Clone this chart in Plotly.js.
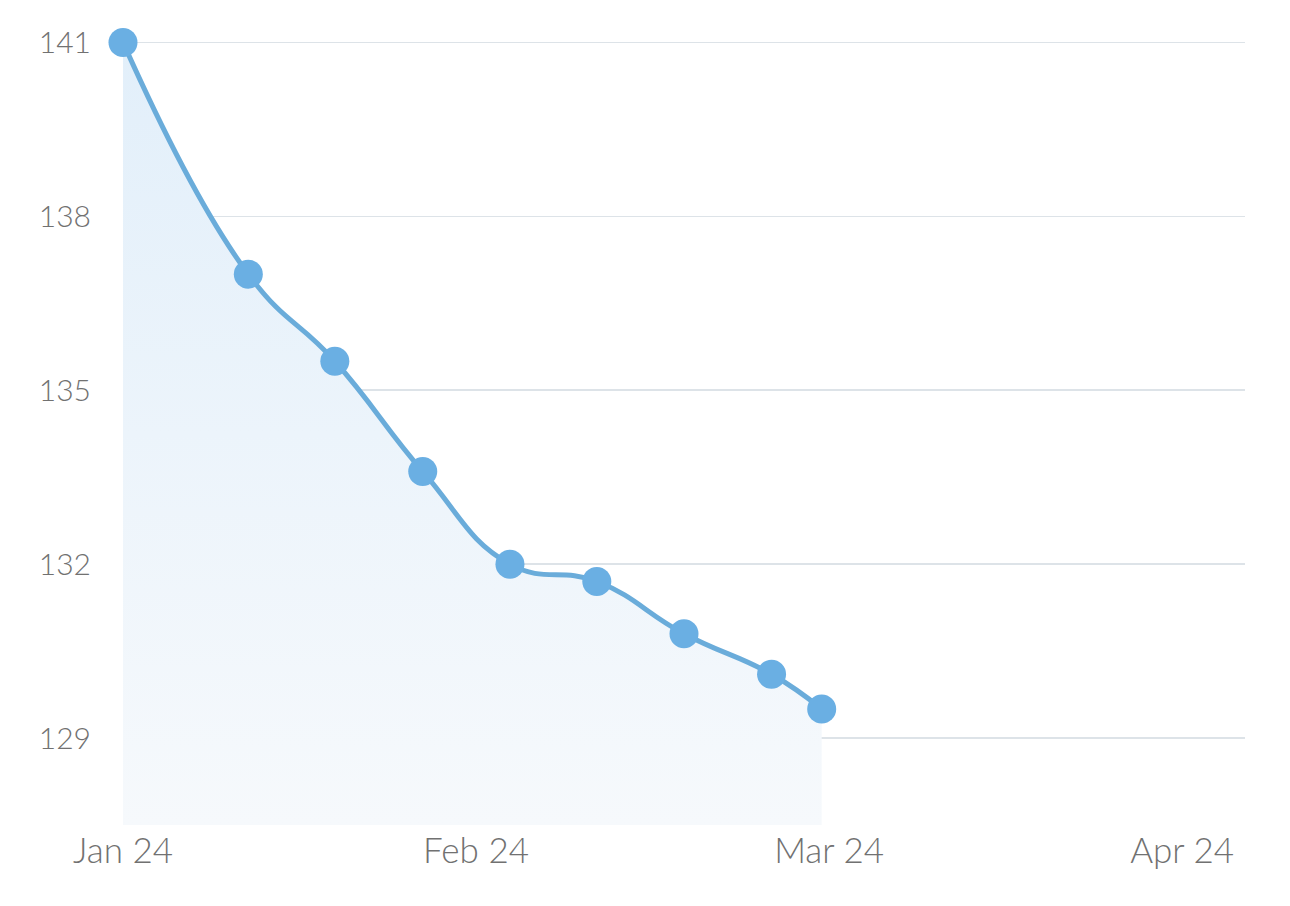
<!DOCTYPE html>
<html>
<head>
<meta charset="utf-8">
<script src="https://cdn.plot.ly/plotly-3.0.1.min.js"></script>
<style>
  html, body { margin: 0; padding: 0; background: #ffffff; }
  #chart { width: 1290px; height: 906px; }
</style>
</head>
<body>
<div id="chart"></div>
<script>
// x positions in months from the start of January (Jan 24 = 0)
const xMonths = [0, 0.355, 0.600, 0.849, 1.096, 1.342, 1.589, 1.837, 1.979];
const weights = [141, 137.0, 135.5, 133.6, 132.0, 131.7, 130.8, 130.1, 129.5];
const tickPositions = [0, 1, 2, 3];
const tickLabels = ["Jan 24", "Feb 24", "Mar 24", "Apr 24"];
const yTicks = [129, 132, 135, 138, 141];

const trace = {
  x: xMonths,
  y: weights,
  type: 'scatter',
  mode: 'lines+markers',
  line: { color: '#6aacda', width: 5, shape: 'spline', smoothing: 1.3 },
  marker: { color: '#6aafe3', size: 29 },
  fill: 'tozeroy',
  fillgradient: {
    type: 'vertical',
    start: 127.5,
    stop: 141,
    colorscale: [[0, '#f6f9fc'], [1, '#e2effa']]
  },
  cliponaxis: false,
  hoverinfo: 'skip'
};

const layout = {
  width: 1290,
  height: 906,
  margin: { l: 123, r: 45, t: 25, b: 81 },
  paper_bgcolor: '#ffffff',
  plot_bgcolor: '#ffffff',
  showlegend: false,
  font: { family: 'Lato, "Open Sans", sans-serif', color: '#707070' },
  xaxis: {
    range: [0, 3.178],
    tickvals: tickPositions,
    ticktext: tickLabels,
    showgrid: false,
    zeroline: false,
    showline: false,
    ticks: '',
    tickfont: { size: 35, color: '#717171', weight: 300 },
    ticklabelstandoff: 2
  },
  yaxis: {
    range: [127.5, 141.3],
    tickvals: yTicks,
    ticktext: yTicks.map(String),
    showgrid: true,
    gridcolor: '#dde3e8',
    gridwidth: 1.5,
    zeroline: false,
    showline: false,
    ticks: '',
    tickfont: { size: 30, color: '#717171', weight: 300 },
    ticklabelstandoff: 31
  }
};

Plotly.newPlot('chart', [trace], layout, { displayModeBar: false, staticPlot: true });
</script>
</body>
</html>
